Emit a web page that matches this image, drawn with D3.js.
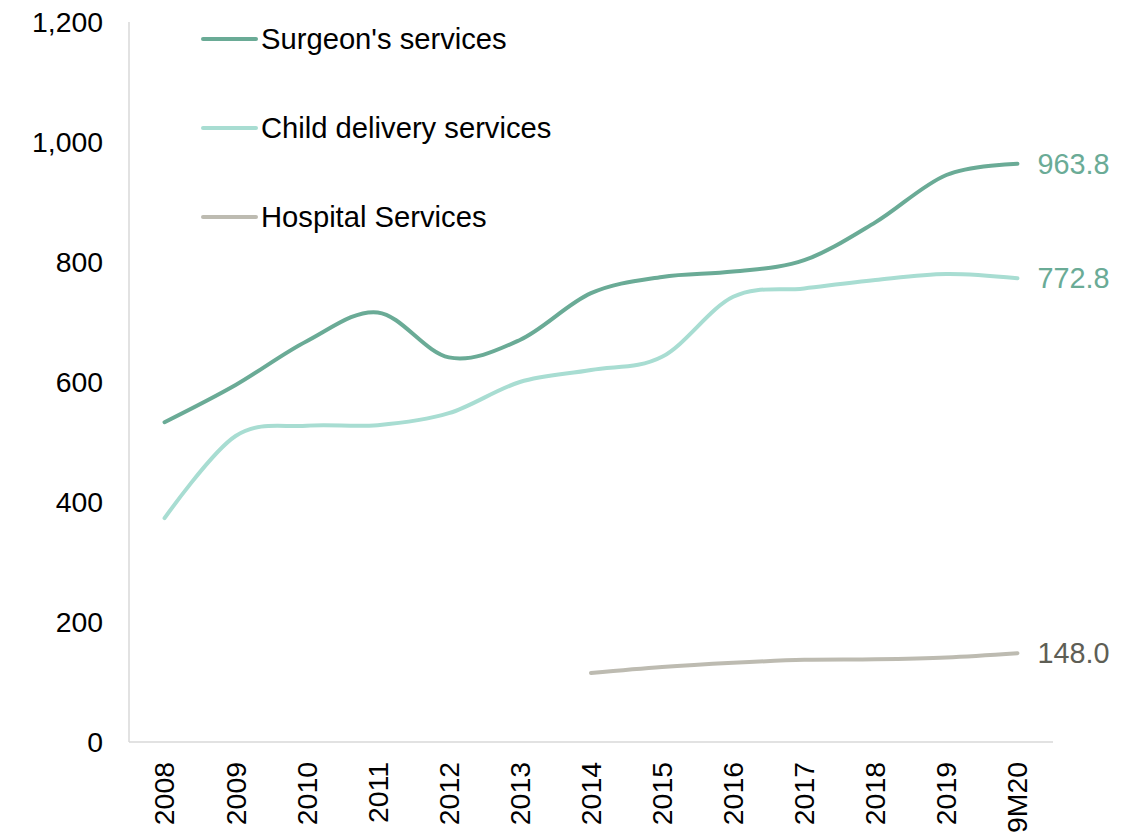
<!DOCTYPE html>
<html><head><meta charset="utf-8">
<script src="https://cdn.jsdelivr.net/npm/d3@7"></script>
<style>body{margin:0;background:#fff}svg{display:block}text{font-family:"Liberation Sans",Arial,sans-serif}</style>
</head><body>
<svg id="c" width="1138" height="834"></svg>
<script>
const categories = ["2008","2009","2010","2011","2012","2013","2014","2015","2016","2017","2018","2019","9M20"];
const surgeon = [533, 595, 668, 716, 641, 670, 748, 775, 784, 803, 866, 945, 963.8];
const childDelivery = [373, 510, 527, 528, 548, 600, 620, 642, 742, 756, 770, 780, 772.8];
const hospital = [null, null, null, null, null, null, 115, 125, 132, 137, 138, 141, 148.0];
const yTicks = [0, 200, 400, 600, 800, 1000, 1200];
const seriesNames = ["Surgeon's services", "Child delivery services", "Hospital Services"];
const colors = ["#6aab96", "#a8ddd2", "#bdbbb1"];
const labelColors = ["#6aab96", "#6aab96", "#5e5e55"];

(function () {
const svg = d3.select("#c");
const mLeft = 129, mRight = 1053, mTop = 22, mBottom = 742;
const x = d3.scalePoint().domain(categories).range([mLeft, mRight]).padding(0.5);
const y = d3.scaleLinear().domain([0, 1200]).range([mBottom, mTop]);
const fs = 28.4;

svg.append("line").attr("x1", mLeft).attr("x2", mLeft).attr("y1", mTop).attr("y2", mBottom)
  .attr("stroke", "#d9d9d9").attr("stroke-width", 1.5);
svg.append("line").attr("x1", mLeft).attr("x2", mRight).attr("y1", mBottom).attr("y2", mBottom)
  .attr("stroke", "#d9d9d9").attr("stroke-width", 1.5);

svg.append("g").selectAll("text").data(yTicks).join("text")
  .attr("x", 103).attr("y", d => y(d)).attr("dy", "0.35em")
  .attr("text-anchor", "end").attr("font-size", fs).attr("fill", "#000")
  .text(d => d3.format(",")(d));

svg.append("g").selectAll("text").data(categories).join("text")
  .attr("transform", d => `translate(${x(d)},762) rotate(-90)`)
  .attr("dy", "0.35em").attr("text-anchor", "end").attr("font-size", fs).attr("fill", "#000")
  .text(d => d);

const series = [surgeon, childDelivery, hospital];
const line = d3.line()
  .defined(d => d.v != null)
  .x(d => x(d.c)).y(d => y(d.v))
  .curve(d3.curveCatmullRom.alpha(0));

[2, 1, 0].forEach(i => {
  const data = categories.map((c, j) => ({c, v: series[i][j]}));
  svg.append("path").datum(data).attr("d", line)
    .attr("fill", "none").attr("stroke", colors[i]).attr("stroke-width", 4)
    .attr("stroke-linecap", "round").attr("stroke-linejoin", "round");
  const last = categories[categories.length - 1];
  const lv = series[i][series[i].length - 1];
  svg.append("text").attr("x", x(last) + 20).attr("y", y(lv)).attr("dy", "0.35em")
    .attr("font-size", 28.8).attr("fill", labelColors[i]).text(d3.format(".1f")(lv));
});

const lg = svg.append("g");
seriesNames.forEach((n, i) => {
  const ly = 39 + i * 89;
  lg.append("line").attr("x1", 203).attr("x2", 256).attr("y1", ly).attr("y2", ly)
    .attr("stroke", colors[i]).attr("stroke-width", 4).attr("stroke-linecap", "round");
  lg.append("text").attr("x", 261).attr("y", ly).attr("dy", "0.35em")
    .attr("font-size", 29.2).attr("fill", "#000").text(n);
});
})();
</script>
</body></html>
